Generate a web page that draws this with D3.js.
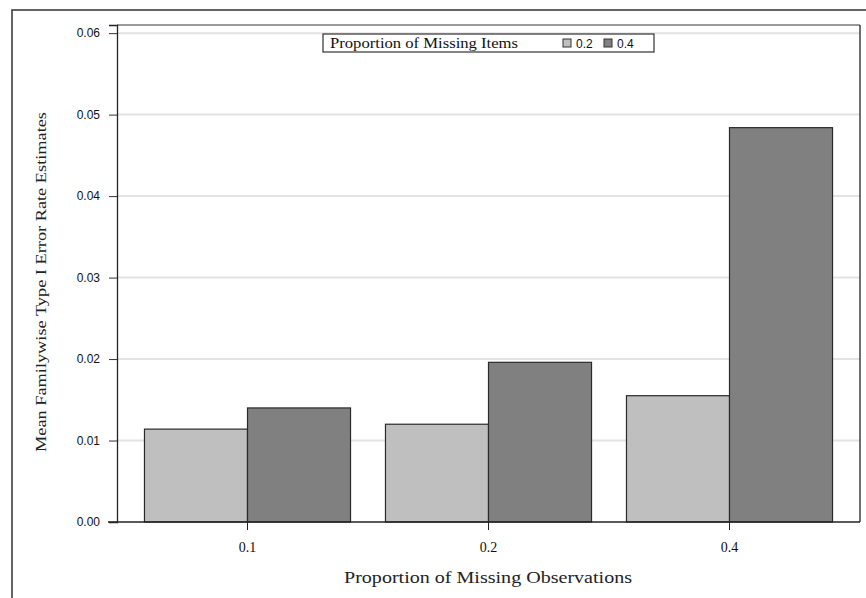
<!DOCTYPE html>
<html>
<head>
<meta charset="utf-8">
<script src="https://cdn.jsdelivr.net/npm/d3@7"></script>
<style>
  html, body { margin: 0; padding: 0; background: #fff; }
  svg { display: block; }
</style>
</head>
<body>
<svg id="chart" width="866" height="598"></svg>
<script>
// Proportion of missing observations (x categories)
const categories = ["0.1", "0.2", "0.4"];
// Proportion of missing items (legend groups)
const groups = ["0.2", "0.4"];
// Mean familywise Type I error rate estimates per group
const values02 = [0.0114, 0.0120, 0.0155];
const values04 = [0.0140, 0.0196, 0.0484];
const yTicks = [0.00, 0.01, 0.02, 0.03, 0.04, 0.05, 0.06];

const fills = { "0.2": "#bfbfbf", "0.4": "#808080" };
const seriesValues = { "0.2": values02, "0.4": values04 };

const svg = d3.select("#chart");
const serif = "'Liberation Serif', 'DejaVu Serif', serif";
const sans = "'Liberation Sans', Arial, sans-serif";

const plotLeft = 117, plotRight = 860, plotTop = 25, plotBottom = 522;

const x = d3.scaleBand()
  .domain(categories)
  .range([plotLeft, plotRight])
  .paddingInner(0.145)
  .paddingOuter(0.114);

const xSub = d3.scaleBand()
  .domain(groups)
  .range([0, x.bandwidth()]);

const y = d3.scaleLinear()
  .domain([0, 0.061])
  .range([plotBottom, plotTop]);

// Outer frame
svg.append("path")
  .attr("d", `M12,598 L12,10 L866,10`)
  .attr("fill", "none")
  .attr("stroke", "#333")
  .attr("stroke-width", 1.5);

// Grid lines
svg.append("g")
  .selectAll("line")
  .data(yTicks.filter(d => d > 0))
  .join("line")
  .attr("x1", plotLeft).attr("x2", plotRight)
  .attr("y1", d => y(d)).attr("y2", d => y(d))
  .attr("stroke", "#e3e3e3")
  .attr("stroke-width", 2);

// Plot frame: top and right
svg.append("line")
  .attr("x1", plotLeft).attr("x2", plotRight)
  .attr("y1", plotTop).attr("y2", plotTop)
  .attr("stroke", "#999").attr("stroke-width", 2);
svg.append("line")
  .attr("x1", plotRight).attr("x2", plotRight)
  .attr("y1", plotTop).attr("y2", plotBottom)
  .attr("stroke", "#222").attr("stroke-width", 1.3);

// Bars
const rows = categories.flatMap((c, i) =>
  groups.map(g => ({ cat: c, group: g, value: seriesValues[g][i] })));

svg.append("g")
  .selectAll("rect")
  .data(rows)
  .join("rect")
  .attr("x", d => x(d.cat) + xSub(d.group))
  .attr("y", d => y(d.value))
  .attr("width", xSub.bandwidth())
  .attr("height", d => y(0) - y(d.value))
  .attr("fill", d => fills[d.group])
  .attr("stroke", "#2a2a2a")
  .attr("stroke-width", 1.2);

// Y axis
const yAxis = svg.append("g")
  .attr("transform", `translate(${plotLeft},0)`)
  .call(d3.axisLeft(y).tickValues(yTicks).tickFormat(d3.format(".2f")).tickSize(8).tickPadding(9));
yAxis.select(".domain").attr("stroke", "#222").attr("stroke-width", 1.3);
yAxis.selectAll(".tick line").attr("stroke", "#333");
yAxis.selectAll("text").attr("font-family", sans).attr("font-size", 12).attr("fill", "#111");

// X axis
const xAxis = svg.append("g")
  .attr("transform", `translate(0,${plotBottom})`)
  .call(d3.axisBottom(x).tickSize(8).tickPadding(12).tickSizeOuter(0));
xAxis.select(".domain").attr("stroke", "#222").attr("stroke-width", 1.3)
  .attr("d", `M${plotLeft - 9},0H${plotRight}`);
xAxis.selectAll(".tick line").attr("stroke", "#222");
xAxis.selectAll("text").attr("font-family", serif).attr("font-size", 14).attr("fill", "#111");

// Axis titles
svg.append("text")
  .attr("x", 488)
  .attr("y", 583)
  .attr("text-anchor", "middle")
  .attr("font-family", serif)
  .attr("font-size", 16)
  .attr("textLength", 288)
  .attr("lengthAdjust", "spacingAndGlyphs")
  .attr("fill", "#222")
  .text("Proportion of Missing Observations");

svg.append("text")
  .attr("transform", `translate(46,282) rotate(-90)`)
  .attr("text-anchor", "middle")
  .attr("font-family", serif)
  .attr("font-size", 15)
  .attr("textLength", 340)
  .attr("lengthAdjust", "spacingAndGlyphs")
  .attr("fill", "#222")
  .text("Mean Familywise Type I Error Rate Estimates");

// Legend
const legend = svg.append("g").attr("transform", "translate(323,34)");
legend.append("rect")
  .attr("width", 331).attr("height", 18)
  .attr("fill", "#fff").attr("stroke", "#333").attr("stroke-width", 1.2);
legend.append("text")
  .attr("x", 7).attr("y", 14)
  .attr("font-family", serif).attr("font-size", 14)
  .attr("textLength", 188)
  .attr("lengthAdjust", "spacingAndGlyphs")
  .attr("fill", "#111")
  .text("Proportion of Missing Items");
const legendX = { "0.2": 240, "0.4": 281 };
groups.forEach(g => {
  legend.append("rect")
    .attr("x", legendX[g]).attr("y", 5)
    .attr("width", 8).attr("height", 8)
    .attr("fill", fills[g]).attr("stroke", "#333");
  legend.append("text")
    .attr("x", legendX[g] + 13).attr("y", 14)
    .attr("font-family", sans).attr("font-size", 12).attr("fill", "#111")
    .text(g);
});
</script>
</body>
</html>
